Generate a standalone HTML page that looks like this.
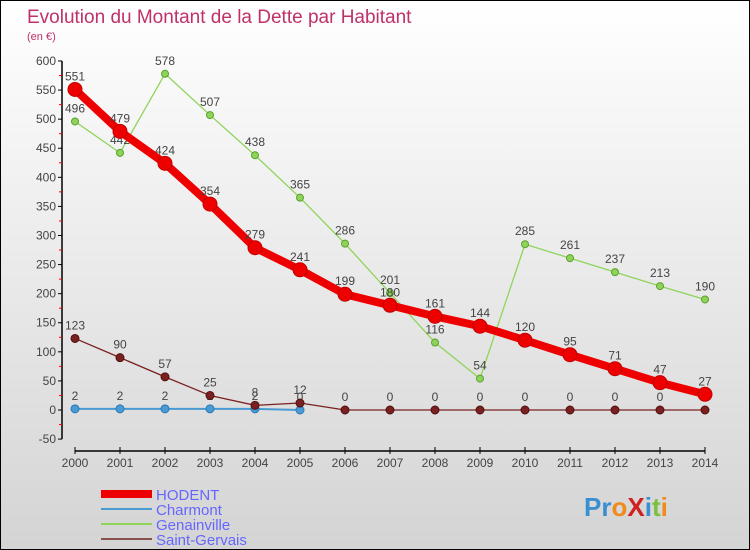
<!DOCTYPE html>
<html><head><meta charset="utf-8"><style>
body{margin:0}
#c{width:748px;height:548px;border:1px solid #000;background:linear-gradient(#fff,#d4d4d4);position:relative;overflow:hidden;font-family:"Liberation Sans",sans-serif}
</style></head><body>
<div id="c">
<svg id="s" width="748" height="548" style="position:absolute;left:0;top:0">
<text x="26" y="22" font-size="19" fill="#c0306a">Evolution du Montant de la Dette par Habitant</text>
<text x="26" y="39" font-size="11" fill="#c0306a">(en €)</text>
<text x="583" y="515" font-size="26" font-weight="bold"><tspan fill="#3a8fd0">Pr</tspan><tspan fill="#f08a1a">o</tspan><tspan fill="#d02020">X</tspan><tspan fill="#3a8fd0">i</tspan><tspan fill="#7ac142">t</tspan><tspan fill="#f08a1a">i</tspan></text>
</svg>
</div>
<script>
const years=[2000,2001,2002,2003,2004,2005,2006,2007,2008,2009,2010,2011,2012,2013,2014];
const hodent=[551,479,424,354,279,241,199,180,161,144,120,95,71,47,27];
const charmont=[2,2,2,2,2,0];
const genainville=[496,442,578,507,438,365,286,201,116,54,285,261,237,213,190];
const saintGervais=[123,90,57,25,8,12,0,0,0,0,0,0,0,0,0];
const yTicks=[-50,0,50,100,150,200,250,300,350,400,450,500,550,600];
const NS="http://www.w3.org/2000/svg";
const s=document.getElementById('s');
const X=i=>74+i*45, Y=v=>409-v*0.5817;
function el(t,a,p){const e=document.createElementNS(NS,t);for(const k in a)e.setAttribute(k,a[k]);(p||s).appendChild(e);return e;}
// y axis
let ax=el('line',{x1:61,y1:Y(600),x2:61,y2:Y(-50),stroke:'#000','stroke-width':1.5});


yTicks.forEach(v=>{
 el('line',{x1:57,y1:Y(v),x2:61,y2:Y(v),stroke:'#000'});
 if(v<600){let m=el('line',{x1:58,y1:Y(v+25),x2:61,y2:Y(v+25),stroke:'#f00'});}
 const t=el('text',{x:55,y:Y(v)+4,'text-anchor':'end','font-size':12,fill:'#444'});t.textContent=v;
 
 
});
// x axis
let xa=el('line',{x1:X(0),y1:450,x2:X(14),y2:450,stroke:'#000','stroke-width':1.5});


years.forEach((y,i)=>{
 el('line',{x1:X(i),y1:446,x2:X(i),y2:453,stroke:'#000'});
 const t=el('text',{x:X(i),y:466,'text-anchor':'middle','font-size':12,fill:'#444'});t.textContent=y;
 
 
});
function series(data,color,w,r,name,dark){
 const g=el('g',{});
 
 
 el('polyline',{points:data.map((v,i)=>X(i)+','+Y(v)).join(' '),fill:'none',stroke:color,'stroke-width':w,'stroke-linejoin':'round'},g);
 data.forEach((v,i)=>{
  const c=el('circle',{cx:X(i),cy:Y(v),r:r,fill:color,stroke:dark,'stroke-width':1},g);
  
  
  const t=el('text',{x:X(i),y:Y(v)-9,'text-anchor':'middle','font-size':12,fill:'#444'},g);t.textContent=v;
 });
}
series(charmont,'#4a9ad4',2,4,'charmont','#2a7ab4');
series(genainville,'#8fd45a',1.3,3.5,'genainville','#5aa02a');
series(saintGervais,'#7a2020',1.3,4,'saint-gervais','#501010');
series(hodent,'#ee0000',8,7,'hodent','#c00000');
// legend
const leg=[['HODENT','#ee0000',8],['Charmont','#4a9ad4',2],['Genainville','#8fd45a',2],['Saint-Gervais','#8a5050',2]];
leg.forEach((l,i)=>{
 const y=493+i*15;
 const g=el('g',{});
 
 
 el('line',{x1:100,y1:y,x2:151,y2:y,stroke:l[1],'stroke-width':l[2]},g);
 const t=el('text',{x:155,y:y+6,'font-size':15,fill:'#6666ff'},g);t.textContent=l[0];
});
</script>
</body></html>
